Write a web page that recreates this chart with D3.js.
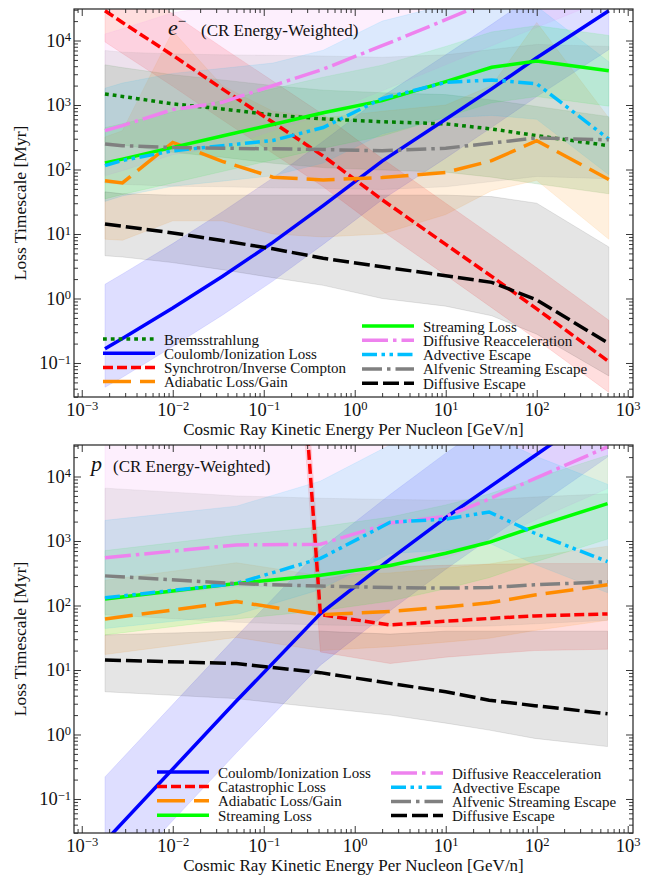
<!DOCTYPE html>
<html>
<head>
<meta charset="utf-8">
<script src="https://cdn.jsdelivr.net/npm/d3@7"></script>
<style>
  body { margin: 0; background: #fff; }
  svg { display: block; }
  text { font-family: "Liberation Serif", "Times New Roman", serif; fill: #111; }
</style>
</head>
<body>
<div id="chart"></div>
<script>
// ---- data (timescales in Myr, energies in GeV/n) ----
const energyTop = [1.8e-3, 2.8e-3, 0.01, 0.035, 0.126, 0.45, 2.0, 10, 32, 100, 620];

const bremsTop    = [1480, 1360, 1040, 870, 700, 610, 550, 510, 425, 335, 234];
const bremsTopLo  = [265, 240, 185, 155, 125, 107, 98, 91, 76, 60, 42];
const bremsTopHi  = [4200, 3800, 2950, 2450, 2000, 1700, 1550, 1450, 1200, 950, 660];

const coulTop     = [0.166, 0.24, 0.71, 2.2, 7.4, 27.5, 135, 600, 1780, 5400, 29000];
const coulTopLo   = [0.042, 0.06, 0.18, 0.55, 1.86, 6.9, 34, 150, 450, 1350, 7200];
const coulTopHi   = [1.66, 2.4, 7.1, 22, 74, 275, 1350, 6000, 17800, 54000, 290000];

const syncTop     = [29000, 19000, 5900, 1780, 540, 162, 34, 6.9, 2.2, 0.69, 0.105];
const syncTopLo   = [9500, 6300, 1950, 590, 178, 54, 11.2, 2.3, 0.72, 0.23, 0.035];
const syncTopHi   = [126000, 83000, 26000, 7800, 2350, 710, 148, 30, 9.5, 3.0, 0.46];

const adiaTop     = [67, 62, 263, 134, 76, 69, 75, 90, 137, 280, 70];
const adiaTopLo   = [8.3, 8, 16, 16, 10, 9, 10, 20, 47, 68, 8.3];
const adiaTopHi   = [320, 400, 14000, 2000, 800, 630, 800, 1000, 2000, 19000, 630];

const streamTop   = [126, 145, 220, 330, 500, 760, 1170, 2300, 3850, 4800, 3400];
const streamTopLo = [35, 41, 62, 93, 141, 214, 330, 650, 1080, 1350, 960];
const streamTopHi = [447, 513, 780, 1170, 1780, 2700, 4150, 8100, 13600, 17000, 12000];

const reaccTop    = [400, 480, 850, 1100, 2000, 3600, 8300, 21000, 42000, 80000, 224000];
const reaccTopLo  = [80, 96, 170, 220, 400, 720, 1660, 4200, 8300, 16000, 45000];
const reaccTopHi  = [12600, 15200, 27000, 35000, 63000, 114000, 262000, 660000, 1.3e6, 2.5e6, 7e6];

const advTop      = [115, 138, 195, 234, 282, 447, 1260, 2240, 2450, 2140, 295];
const advTopLo    = [32, 39, 55, 66, 80, 126, 355, 630, 690, 600, 83];
const advTopHi    = [1820, 2190, 3090, 3700, 4470, 7080, 20000, 35500, 38800, 33900, 4680];

const alfTop      = [248, 234, 219, 214, 209, 204, 195, 214, 257, 309, 288];
const alfTopLo    = [62, 59, 55, 54, 52, 51, 49, 54, 65, 78, 72];
const alfTopHi    = [7000, 6600, 6200, 6000, 5900, 5750, 5500, 6000, 7250, 8700, 8100];

const diffTop     = [14.3, 13.2, 10.4, 7.9, 5.9, 4.2, 3.1, 2.26, 1.78, 0.95, 0.20];
const diffTopLo   = [4.6, 4.4, 3.6, 2.8, 2.1, 1.6, 1.0, 0.76, 0.54, 0.28, 0.063];
const diffTopHi   = [45, 42, 40, 40, 40, 40, 40, 40, 38, 30, 6.3];

const energyBot = [1.8e-3, 0.05, 0.42, 2.45, 10, 30, 95, 600];

const coulBot     = [0.022, 3.3, 75, 525, 2300, 6800, 21000, 126000];
const coulBotLo   = [0.0035, 0.52, 11.9, 83, 364, 1080, 3300, 20000];
const coulBotHi   = [0.22, 33, 750, 5250, 23000, 68000, 210000, 1.26e6];

const catBot      = [null, 1e20, 72, 50, 57, 63, 69, 74];
const catBotLo    = [null, 1e19, 19, 12.6, 15.8, 17.8, 20, 21];
const catBotHi    = [null, 1e21, 250, 400, 420, 437, 447, 447];

const adiaBot     = [62, 115, 72, 81, 95, 110, 145, 209];
const adiaBotLo   = [17.4, 32, 20, 23, 27, 31, 41, 59];
const adiaBotHi   = [247, 460, 290, 320, 380, 440, 580, 830];

const streamBot   = [126, 219, 295, 417, 646, 955, 1660, 3800];
const streamBotLo = [35, 62, 83, 117, 182, 270, 470, 1070];
const streamBotHi = [710, 1230, 1660, 2350, 3630, 5370, 9330, 21400];

const reaccBot    = [550, 870, 890, 1900, 2400, 4470, 9300, 28800];
const reaccBotLo  = [123, 195, 200, 425, 540, 1000, 2090, 6500];
const reaccBotHi  = [55000, 87000, 89000, 190000, 240000, 447000, 930000, 2.9e6];

const advBot      = [132, 219, 537, 1950, 2190, 2820, 1320, 479];
const advBotLo    = [44, 72, 177, 640, 720, 930, 435, 158];
const advBotHi    = [2090, 3470, 8500, 30900, 34700, 44700, 20900, 7600];

const alfBot      = [288, 219, 200, 190, 186, 190, 209, 234];
const alfBotLo    = [72, 55, 50, 48, 47, 48, 52, 59];
const alfBotHi    = [6600, 5000, 4600, 4400, 4300, 4400, 4800, 5400];

const diffBot     = [14.3, 12.6, 9.1, 6.2, 4.6, 3.4, 2.8, 2.1];
const diffBotLo   = [4.6, 3.6, 2.6, 2.0, 1.5, 1.17, 0.87, 0.65];
const diffBotHi   = [35, 40, 40, 36, 40, 40, 40, 40];

const xMajorTicks = [1e-3, 1e-2, 1e-1, 1e0, 1e1, 1e2, 1e3];
const yMajorTicks = [1e-1, 1e0, 1e1, 1e2, 1e3, 1e4];

// ---- styles ----
const styles = {
    brems:  { label: "Bremsstrahlung",              color: "#008000", dash: "3.8,4" },
    coul:   { label: "Coulomb/Ionization Loss",     color: "#0000ff", dash: null },
    sync:   { label: "Synchrotron/Inverse Compton", color: "#ff0000", dash: "10,4" },
    cat:    { label: "Catastrophic Loss",           color: "#ff0000", dash: "10,4" },
    adia:   { label: "Adiabatic Loss/Gain",         color: "#ff8c00", dash: "28,9" },
    stream: { label: "Streaming Loss",              color: "#00ff00", dash: null },
    reacc:  { label: "Diffusive Reacceleration",    color: "#ee82ee", dash: "26,5,3.5,5" },
    adv:    { label: "Advective Escape",            color: "#00bfff", dash: "15,4.5,3.5,4.5,3.5,4.5" },
    alf:    { label: "Alfvenic Streaming Escape",   color: "#808080", dash: "20,5,3.5,5" },
    diff:   { label: "Diffusive Escape",            color: "#000000", dash: "16,5" }
};

const W = 649, H = 876;
const left = 74, right = 633;

const svg = d3.select("#chart").append("svg")
    .attr("width", W)
    .attr("height", H);

const x = d3.scaleLog().domain([8.22e-4, 1143]).range([left, right]);

function minorTicks(lo, hi) {
    const out = [];
    for (let k = -4; k <= 4; k++) {
        for (let m = 2; m <= 9; m++) {
            const v = m * Math.pow(10, k);
            if (v > lo && v < hi) out.push(v);
        }
    }
    return out;
}

function expLabel(sel, v) {
    const e = Math.round(Math.log10(v));
    sel.text("");
    sel.append("tspan").text("10");
    sel.append("tspan")
        .attr("font-size", 12.5)
        .attr("dy", "-0.45em")
        .text(e < 0 ? "\u2212" + (-e) : e);
}

function drawPanel(p) {
    const y = d3.scaleLog().domain([0.0297, 30800]).range([p.bottom, p.top]);

    svg.append("clipPath").attr("id", "clip" + p.id)
        .append("rect")
        .attr("x", left).attr("y", p.top)
        .attr("width", right - left).attr("height", p.bottom - p.top);

    const plot = svg.append("g").attr("clip-path", `url(#clip${p.id})`);

    const area = d3.area()
        .defined(d => d.lo != null)
        .x(d => x(d.e))
        .y0(d => y(d.lo))
        .y1(d => y(d.hi));

    const line = d3.line()
        .defined(d => d.v != null)
        .x(d => x(d.e))
        .y(d => y(d.v));

    const rows = p.series.map(s => ({
        style: styles[s.key],
        pts: p.energy.map((e, i) => ({ e: e, v: s.vals[i], lo: s.lo[i], hi: s.hi[i] }))
    }));

    rows.forEach(r => {
        plot.append("path")
            .datum(r.pts)
            .attr("d", area)
            .attr("fill", r.style.color)
            .attr("fill-opacity", r.style.color === "#000000" ? 0.1 : 0.13)
            .attr("stroke", r.style.color)
            .attr("stroke-opacity", 0.12)
            .attr("stroke-width", 0.8);
    });

    rows.forEach(r => {
        plot.append("path")
            .datum(r.pts)
            .attr("d", line)
            .attr("fill", "none")
            .attr("stroke", r.style.color)
            .attr("stroke-width", 3.5)
            .attr("stroke-dasharray", r.style.dash);
    });

    // axes: inward ticks on all four sides
    const xMinor = minorTicks(8.22e-4, 1143);
    const yMinor = minorTicks(0.0297, 30800);

    function addAxis(axis, transform) {
        const g = svg.append("g").attr("transform", transform).call(axis);
        g.select(".domain").remove();
        g.selectAll("line").attr("stroke", "#222").attr("stroke-width", 0.9);
        return g;
    }

    const bx = addAxis(d3.axisBottom(x).tickValues(xMajorTicks).tickSize(-7).tickPadding(5.5), `translate(0,${p.bottom})`);
    bx.attr("font-size", 18.5).attr("font-family", null);
    bx.selectAll("text").each(function(d) { expLabel(d3.select(this), d); });
    addAxis(d3.axisBottom(x).tickValues(xMinor).tickSize(-4).tickFormat(""), `translate(0,${p.bottom})`);
    addAxis(d3.axisTop(x).tickValues(xMajorTicks).tickSize(-7).tickFormat(""), `translate(0,${p.top})`);
    addAxis(d3.axisTop(x).tickValues(xMinor).tickSize(-4).tickFormat(""), `translate(0,${p.top})`);

    const ly = addAxis(d3.axisLeft(y).tickValues(yMajorTicks).tickSize(-7).tickPadding(3), `translate(${left},0)`);
    ly.attr("font-size", 18.5).attr("font-family", null);
    ly.selectAll("text").each(function(d) { expLabel(d3.select(this), d); });
    addAxis(d3.axisLeft(y).tickValues(yMinor).tickSize(-4).tickFormat(""), `translate(${left},0)`);
    addAxis(d3.axisRight(y).tickValues(yMajorTicks).tickSize(-7).tickFormat(""), `translate(${right},0)`);
    addAxis(d3.axisRight(y).tickValues(yMinor).tickSize(-4).tickFormat(""), `translate(${right},0)`);

    svg.append("rect")
        .attr("x", left).attr("y", p.top)
        .attr("width", right - left).attr("height", p.bottom - p.top)
        .attr("fill", "none")
        .attr("stroke", "#222")
        .attr("stroke-width", 1.2);

    // axis titles
    svg.append("text")
        .attr("x", (left + right) / 2)
        .attr("y", p.bottom + 38)
        .attr("text-anchor", "middle")
        .attr("font-size", 17)
        .text("Cosmic Ray Kinetic Energy Per Nucleon [GeV/n]");

    svg.append("text")
        .attr("transform", `translate(26,${(p.top + p.bottom) / 2}) rotate(-90)`)
        .attr("text-anchor", "middle")
        .attr("font-size", 17.5)
        .text("Loss Timescale [Myr]");

    // panel label
    const t = svg.append("text").attr("x", p.labelX).attr("y", p.top + 26);
    t.append("tspan").attr("font-style", "italic").attr("font-size", 22).text(p.particle);
    if (p.sup) {
        t.append("tspan").attr("font-size", 15).attr("dy", -9).text(p.sup);
    }
    t.append("tspan").attr("x", p.captionX).attr("y", p.top + 27)
        .attr("font-size", 17).text("(CR Energy-Weighted)");

    // legends
    p.legends.forEach(lg => {
        lg.keys.forEach((k, i) => {
            const st = styles[k];
            const ry = lg.y + i * lg.step;
            svg.append("line")
                .attr("x1", lg.x).attr("x2", lg.x + 52)
                .attr("y1", ry).attr("y2", ry)
                .attr("stroke", st.color)
                .attr("stroke-width", 3.5)
                .attr("stroke-dasharray", st.dash);
            svg.append("text")
                .attr("x", lg.x + 61)
                .attr("y", ry + 5.5)
                .attr("font-size", 15)
                .text(st.label);
        });
    });
}

drawPanel({
    id: "top", top: 9, bottom: 397,
    energy: energyTop,
    particle: "e", sup: "\u2212", labelX: 168, captionX: 201,
    series: [
        { key: "brems",  vals: bremsTop,  lo: bremsTopLo,  hi: bremsTopHi },
        { key: "coul",   vals: coulTop,   lo: coulTopLo,   hi: coulTopHi },
        { key: "sync",   vals: syncTop,   lo: syncTopLo,   hi: syncTopHi },
        { key: "adia",   vals: adiaTop,   lo: adiaTopLo,   hi: adiaTopHi },
        { key: "stream", vals: streamTop, lo: streamTopLo, hi: streamTopHi },
        { key: "reacc",  vals: reaccTop,  lo: reaccTopLo,  hi: reaccTopHi },
        { key: "adv",    vals: advTop,    lo: advTopLo,    hi: advTopHi },
        { key: "alf",    vals: alfTop,    lo: alfTopLo,    hi: alfTopHi },
        { key: "diff",   vals: diffTop,   lo: diffTopLo,   hi: diffTopHi }
    ],
    legends: [
        { x: 103, y: 339, step: 14.2, keys: ["brems", "coul", "sync", "adia"] },
        { x: 362, y: 326, step: 14.3, keys: ["stream", "reacc", "adv", "alf", "diff"] }
    ]
});

drawPanel({
    id: "bot", top: 445, bottom: 833,
    energy: energyBot,
    particle: "p", sup: null, labelX: 91, captionX: 113,
    series: [
        { key: "coul",   vals: coulBot,   lo: coulBotLo,   hi: coulBotHi },
        { key: "cat",    vals: catBot,    lo: catBotLo,    hi: catBotHi },
        { key: "adia",   vals: adiaBot,   lo: adiaBotLo,   hi: adiaBotHi },
        { key: "stream", vals: streamBot, lo: streamBotLo, hi: streamBotHi },
        { key: "reacc",  vals: reaccBot,  lo: reaccBotLo,  hi: reaccBotHi },
        { key: "adv",    vals: advBot,    lo: advBotLo,    hi: advBotHi },
        { key: "alf",    vals: alfBot,    lo: alfBotLo,    hi: alfBotHi },
        { key: "diff",   vals: diffBot,   lo: diffBotLo,   hi: diffBotHi }
    ],
    legends: [
        { x: 157, y: 772, step: 14.4, keys: ["coul", "cat", "adia", "stream"] },
        { x: 391, y: 773, step: 14.2, keys: ["reacc", "adv", "alf", "diff"] }
    ]
});
</script>
</body>
</html>
